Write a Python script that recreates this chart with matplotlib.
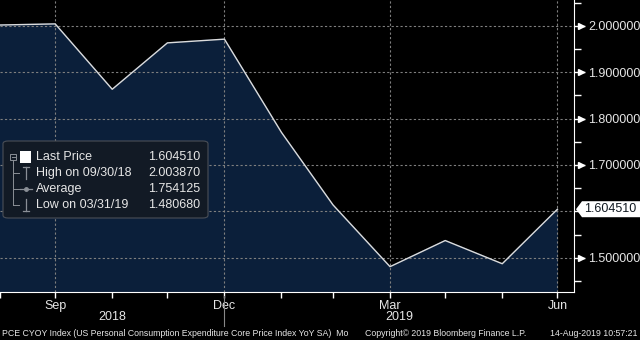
import numpy as np
import pandas as pd
import matplotlib
matplotlib.use('Agg')
import matplotlib.pyplot as plt
import matplotlib.transforms as mtransforms
from matplotlib.patches import Polygon, FancyBboxPatch, Rectangle
from matplotlib.lines import Line2D

plt.rcParams['font.family'] = ['Liberation Sans', 'DejaVu Sans']

# PCE core YoY, month end
dates = ['2018-08-31', '2018-09-30', '2018-10-31', '2018-11-30', '2018-12-31',
         '2019-01-31', '2019-02-28', '2019-03-31', '2019-04-30', '2019-05-31',
         '2019-06-30']
values = [2.0015, 2.00387, 1.863, 1.963, 1.971, 1.770, 1.613815, 1.48068,
          1.537, 1.487, 1.60451]
xtick_labels = ['', 'Sep', '', '', 'Dec', '', '', 'Mar', '', '', 'Jun']
year_labels = ['2018', '2019']
ytick_vals = [1.5, 1.6, 1.7, 1.8, 1.9, 2.0]

footer_left = 'PCE CYOY Index (US Personal Consumption Expenditure Core Price Index YoY SA)  Mo'
footer_mid = 'Copyright\u00a9 2019 Bloomberg Finance L.P.'
footer_right = '14-Aug-2019 10:57:21'

BG = '#000000'
FILL = '#0b1f3a'
GRID = '#7f7f7f'
TXT = '#e6e6e6'

W, H = 640, 340
fig = plt.figure(figsize=(6.4, 3.4), dpi=100, facecolor=BG)


def fx(x):
    return x / W


def fy(y):
    return 1 - y / H


ax = fig.add_axes([0, fy(292), fx(574), fy(0) - fy(292)])
ax.set_facecolor(BG)

x = pd.to_datetime(dates)
ax.fill_between(x, values, 1.0, color=FILL, zorder=1)
ax.plot(x, values, color='#dcdcdc', lw=1.0, zorder=3)

ax.set_xlim(pd.Timestamp('2018-08-31'), pd.Timestamp('2019-07-09'))
ax.set_ylim(1.4261, 2.0554)

# grid: horizontal at every 0.1, vertical at quarter ends
for v in ytick_vals:
    ax.axhline(v, color=GRID, lw=0.8, ls=(0, (2, 2)), zorder=2)
for d, lab in zip(x, xtick_labels):
    if lab:
        ax.axvline(d, color=GRID, lw=0.8, ls=(0, (2, 2)), zorder=2)

for s in ['top', 'left']:
    ax.spines[s].set_visible(False)
ax.spines['right'].set_color('white')
ax.spines['bottom'].set_color('white')

ax.set_xticks(x)
ax.set_xticklabels(xtick_labels)
ax.tick_params(axis='x', colors='white', length=4, width=1, labelcolor=TXT,
               labelsize=9, pad=2)

# the last price tag covers the 1.6 label
last = values[-1]
ax.yaxis.tick_right()
ax.set_yticks(ytick_vals)
ax.set_yticklabels(['' if abs(v - last) < 0.05 else '%.6f' % v for v in ytick_vals])
ax.set_yticks(np.arange(1.45, 2.06, 0.1), minor=True)
ax.tick_params(axis='y', which='major', colors='white', length=8, width=1,
               labelcolor=TXT, labelsize=9, pad=2)
ax.tick_params(axis='y', which='minor', colors='white', length=5, width=1)
tr = mtransforms.blended_transform_factory(ax.transAxes, ax.transData)
arrow_y = [v for v in ytick_vals if abs(v - last) >= 0.05]
ax.plot([1 + 6.5 / 574] * len(arrow_y), arrow_y, ls='none', marker='>',
        ms=4, color='white', transform=tr, clip_on=False, zorder=5)

# last price tag on the right axis
ymin, ymax = ax.get_ylim()
yf = (last - ymin) / (ymax - ymin)
hh = 8 / 292
tag = Polygon([(1 + 2 / 574, yf), (1 + 8 / 574, yf + hh), (1 + 66 / 574, yf + hh),
               (1 + 66 / 574, yf - hh), (1 + 8 / 574, yf - hh)],
              closed=True, facecolor='white', edgecolor='none',
              transform=ax.transAxes, clip_on=False, zorder=6)
ax.add_patch(tag)
ax.text(1 + 10 / 574, yf, '%.6f' % last, transform=ax.transAxes, color='#101820',
        fontsize=9, va='center', ha='left', zorder=7, clip_on=False)

# year labels and separator under the x axis
fig.text(fx(112), fy(317), year_labels[0], color=TXT, fontsize=9, ha='center', va='center')
fig.text(fx(399), fy(317), year_labels[1], color=TXT, fontsize=9, ha='center', va='center')
fig.add_artist(Line2D([fx(224), fx(224)], [fy(296), fy(326)], color='#888888', lw=0.8))

# legend panel
box = FancyBboxPatch((fx(3), fy(218)), fx(205), fy(141) - fy(218),
                     boxstyle='round,pad=0,rounding_size=0.008',
                     transform=fig.transFigure, facecolor='#121a25',
                     edgecolor='#4a4f57', lw=0.8, zorder=10)
fig.add_artist(box)

imax = int(np.argmax(values))
imin = int(np.argmin(values))
rows = [
    ('Last Price', last),
    ('High on ' + x[imax].strftime('%m/%d/%y'), values[imax]),
    ('Average', float(np.mean(values))),
    ('Low on ' + x[imin].strftime('%m/%d/%y'), values[imin]),
]
row_y = [157, 173, 189, 205]
for (lab, val), yy in zip(rows, row_y):
    fig.text(fx(36), fy(yy), lab, color=TXT, fontsize=9, va='center', ha='left', zorder=11)
    fig.text(fx(200), fy(yy), '%.6f' % val, color=TXT, fontsize=9, va='center',
             ha='right', zorder=11)

tree = '#8a8f96'
fig.add_artist(Rectangle((fx(10), fy(160)), fx(6), fy(154) - fy(160), fill=False,
                         edgecolor=tree, lw=0.7, transform=fig.transFigure, zorder=11))
fig.add_artist(Line2D([fx(11.5), fx(14.5)], [fy(157), fy(157)], color=tree, lw=0.7, zorder=11))
fig.add_artist(Line2D([fx(13), fx(13)], [fy(160), fy(205)], color=tree, lw=0.7, zorder=11))
for yy in row_y[1:]:
    fig.add_artist(Line2D([fx(13), fx(19)], [fy(yy), fy(yy)], color=tree, lw=0.7, zorder=11))
fig.add_artist(Rectangle((fx(20), fy(163)), fx(11), fy(151) - fy(163), facecolor='white',
                         edgecolor='none', transform=fig.transFigure, zorder=11))
# high / average / low glyphs
fig.add_artist(Line2D([fx(26), fx(26)], [fy(167), fy(179)], color=tree, lw=0.9, zorder=11))
fig.add_artist(Line2D([fx(23), fx(29)], [fy(167), fy(167)], color=tree, lw=0.9, zorder=11))
fig.add_artist(Line2D([fx(20), fx(32)], [fy(189), fy(189)], color=tree, lw=0.9, zorder=11))
fig.add_artist(Line2D([fx(26)], [fy(189)], marker='o', ms=2.5, color=tree, zorder=11))
fig.add_artist(Line2D([fx(26), fx(26)], [fy(199), fy(211)], color=tree, lw=0.9, zorder=11))
fig.add_artist(Line2D([fx(23), fx(29)], [fy(211), fy(211)], color=tree, lw=0.9, zorder=11))

# footer
fig.text(fx(2), fy(333), footer_left, color=TXT, fontsize=6.3, va='center', ha='left')
fig.text(fx(365), fy(333), footer_mid, color=TXT, fontsize=6.3, va='center', ha='left')
fig.text(fx(637), fy(333), footer_right, color=TXT, fontsize=6.3, va='center', ha='right')

fig.savefig('out.png', dpi=100, facecolor=BG)
